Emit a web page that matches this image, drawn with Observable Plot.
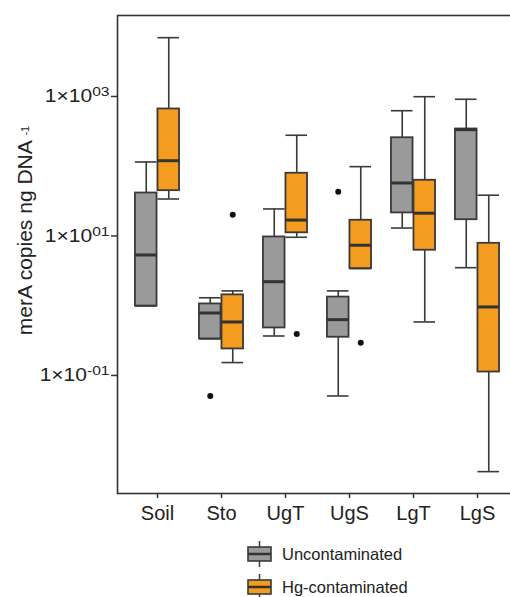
<!DOCTYPE html>
<html>
<head>
<meta charset="utf-8">
<script src="https://cdn.jsdelivr.net/npm/d3@7"></script>
<script src="https://cdn.jsdelivr.net/npm/@observablehq/plot@0.6"></script>
<style>
  html, body { margin: 0; padding: 0; background: #fff; overflow: hidden; }
  body { width: 510px; height: 597px; position: relative; font-family: "Liberation Sans", Arial, sans-serif; }
  #chart { position: absolute; left: 0; top: 0; width: 520px; }
  #chart svg { max-width: none !important; }
  .leg { position: absolute; left: 247px; display: flex; align-items: center; font-size: 16.5px; color: #222; }
  .leg svg { margin-right: 10px; }
</style>
</head>
<body>
<div id="chart"></div>
<div class="leg" id="leg1" style="top:541px"></div>
<div class="leg" id="leg2" style="top:574px"></div>
<script>
const categories = ["Soil", "Sto", "UgT", "UgS", "LgT", "LgS"];
const groups = ["Uncontaminated", "Hg-contaminated"];
const colors = ["#9a9a9a", "#f39c1f"];

// Uncontaminated summary stats
const uncMin = [0.99, 0.334, 0.368, 0.0508, 13.0, 3.51];
const uncQ1  = [0.99, 0.334, 0.48, 0.353, 21.4, 17.1];
const uncMed = [5.34, 0.787, 2.21, 0.631, 57.5, 334];
const uncQ3  = [41.3, 1.06, 9.68, 1.33, 256, 342];
const uncMax = [115, 1.30, 24.4, 1.63, 625, 912];
// Hg-contaminated summary stats
const hgMin = [33.9, 0.153, 9.58, 3.40, 0.585, 0.00418];
const hgQ1  = [44.6, 0.240, 11.1, 3.40, 6.24, 0.112];
const hgMed = [120, 0.585, 16.9, 7.36, 21.2, 0.96];
const hgQ3  = [662, 1.43, 79.3, 16.8, 62.9, 7.85];
const hgMax = [6970, 1.63, 278, 98.6, 993, 38.4];

// outliers
const outCat   = ["Sto", "Sto", "UgT", "UgS", "UgS"];
const outGroup = ["Uncontaminated", "Hg-contaminated", "Hg-contaminated", "Uncontaminated", "Hg-contaminated"];
const outVal   = [0.0508, 20.2, 0.394, 43.1, 0.295];

const yTicks = [0.1, 10, 1000];
const yTitle = "merA copies ng DNA";
const yTitleSup = "-1";

const stats = [
  {min: uncMin, q1: uncQ1, med: uncMed, q3: uncQ3, max: uncMax},
  {min: hgMin, q1: hgQ1, med: hgMed, q3: hgQ3, max: hgMax}
];

const width = 520, marginLeft = 117, marginRight = 8;
const insetLeft = 5.5;
const bw = (width - marginLeft - marginRight - insetLeft) / categories.length;
const boxW = 22.5;
const stroke = "#3a3a3a";

const marks = [];
groups.forEach((g, gi) => {
  const s = stats[gi];
  const rows = categories.map((c, i) => ({cat: c, min: s.min[i], q1: s.q1[i], med: s.med[i], q3: s.q3[i], max: s.max[i]}));
  const sign = gi === 0 ? -1 : 1;
  const inL = gi === 0 ? bw / 2 - boxW : bw / 2;
  const inR = gi === 0 ? bw / 2 : bw / 2 - boxW;
  const dx = sign * boxW / 2;
  marks.push(
    Plot.ruleX(rows, {x: "cat", y1: "min", y2: "q1", dx, stroke, strokeWidth: 1.6}),
    Plot.ruleX(rows, {x: "cat", y1: "q3", y2: "max", dx, stroke, strokeWidth: 1.6}),
    Plot.tickY(rows, {x: "cat", y: "min", insetLeft: inL, insetRight: inR, stroke, strokeWidth: 1.6}),
    Plot.tickY(rows, {x: "cat", y: "max", insetLeft: inL, insetRight: inR, stroke, strokeWidth: 1.6}),
    Plot.barY(rows, {x: "cat", y1: "q1", y2: "q3", insetLeft: inL, insetRight: inR, fill: colors[gi], stroke, strokeWidth: 1.8}),
    Plot.tickY(rows, {x: "cat", y: "med", insetLeft: inL, insetRight: inR, stroke: "#333", strokeWidth: 3})
  );
  const outs = outVal.map((v, i) => ({cat: outCat[i], group: outGroup[i], v})).filter(d => d.group === g);
  marks.push(Plot.dot(outs, {x: "cat", y: "v", dx, r: 3, fill: "#111", stroke: "none"}));
});

const fmt = v => {
  const e = Math.round(Math.log10(v));
  const es = (e < 0 ? "-" : "") + String(Math.abs(e)).padStart(2, "0");
  return "1×10^" + es;
};

const chart = Plot.plot({
  width,
  height: 530,
  marginLeft,
  marginRight,
  marginTop: 15,
  marginBottom: 37,
  style: {fontFamily: "Liberation Sans, Arial, sans-serif", background: "#fff", color: "#222", maxWidth: "none"},
  x: {domain: categories, padding: 0, insetLeft, label: null},
  y: {type: "log", domain: [0.00203, 14490], label: null},
  marks: [
    Plot.axisY(yTicks, {tickFormat: fmt, tickSize: 6, tickPadding: 2, fontSize: 17.5, stroke: "#333", strokeWidth: 1.5, label: null}),
    Plot.axisX({tickSize: 5, tickPadding: 7, fontSize: 20, stroke: "#333", strokeWidth: 1.5, label: null}),
    ...marks,
    Plot.text([yTitle], {frameAnchor: "left", textAnchor: "middle", dx: -92, dy: -24, rotate: -90, fontSize: 21, fill: "#222"}),
    Plot.frame({stroke: "#333", strokeWidth: 1.6})
  ]
});
chart.style.maxWidth = "none";

// superscripts on tick labels (slightly widened glyphs as in the original)
d3.select(chart).selectAll('g[aria-label="y-axis tick label"] text').each(function() {
  const t = d3.select(this);
  const [base, sup] = t.text().split("^");
  t.text(base);
  t.append("tspan").attr("dy", "-0.45em").attr("font-size", "13px").text(sup);
  const tr = t.attr("transform") || "";
  t.attr("transform", tr + " scale(1.2,1)");
});
// y title with small exponent
d3.select(chart).selectAll('g[aria-label="text"] text').each(function() {
  const t = d3.select(this);
  if (t.text() !== yTitle) return;
  t.text(yTitle + " ");
  t.append("tspan").attr("dy", "-0.3em").attr("font-size", "11px").text(yTitleSup);
});

document.getElementById("chart").appendChild(chart);

// legend
function icon(fill) {
  return `<svg width="25" height="26" viewBox="0 0 25 26"><line x1="12.5" y1="0" x2="12.5" y2="26" stroke="${stroke}" stroke-width="1.5"/><rect x="1" y="6" width="23" height="14" fill="${fill}" stroke="${stroke}" stroke-width="1.6"/><line x1="1" y1="13" x2="24" y2="13" stroke="#333" stroke-width="2.5"/></svg>`;
}
document.getElementById("leg1").innerHTML = icon(colors[0]) + `<span>${groups[0]}</span>`;
document.getElementById("leg2").innerHTML = icon(colors[1]) + `<span>${groups[1]}</span>`;
</script>
</body>
</html>
